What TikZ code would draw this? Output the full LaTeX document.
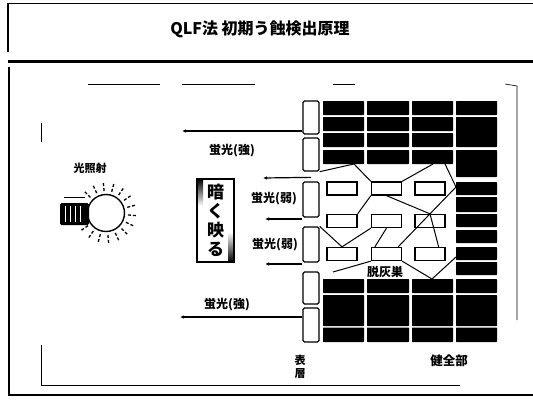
\documentclass[tikz,border=0pt]{standalone}
\usepackage{fontspec}
\newfontfamily\cjk{Noto Sans CJK JP}
\usetikzlibrary{calc,arrows.meta}

\begin{document}
\begin{tikzpicture}[x=1pt,y=-1pt,
  lbl/.style={font=\cjk\bfseries\fontsize{12}{14}\selectfont, inner sep=0pt},
  surf/.style={draw, line width=1.3pt, rounded corners=1.5pt, fill=white,
               minimum width=16pt, inner sep=0pt},
  cell/.style={draw, line width=1.3pt, fill=white, minimum width=30pt,
               minimum height=13pt, inner sep=0pt},
  edge/.style={line width=1pt},
  fl/.style={line width=1.2pt, -{Latex[length=4pt,width=3.5pt]}},
  hair/.style={line width=0.6pt}
]
\useasboundingbox (0,0) rectangle (533,400);

% ---- page frame -------------------------------------------------------
\draw[line width=1pt] (8,3) -- (533,3);
\draw[line width=1.4pt] (8,3) -- (8,52);
\draw[line width=3pt] (8,61) -- (533,61);
\draw[line width=1.8pt] (9,67) -- (9,395) -- (533,395);
% inner hairline frame
\draw[hair] (88,84) -- (160,84);
\draw[hair] (182,84) -- (255,84);
\draw[hair] (333,84) -- (355,84);
\draw[hair] (505,84) -- (517,86) -- (517,320);
\draw[hair] (41,123) -- (41,142);
\draw[hair] (41,345) -- (41,385) -- (460,385);

% ---- title ------------------------------------------------------------
\node[font=\cjk\bfseries\fontsize{16}{18}\selectfont, inner sep=0pt] (title)
  at (260,29) {QLF法 初期う蝕検出原理};

% ---- enamel: sound (dark) blocks -------------------------------------
\foreach \ya/\yb in {101/115, 117/131, 133/147, 150/164}
  \foreach \xa/\xb in {323/364, 367/409, 412/453}
    \fill[rounded corners=0.6pt] (\xa,\ya) rectangle (\xb,\yb);
\foreach \ya/\yb in {101/115, 117/147, 150/177, 182/195, 197/212, 214/227,
                     230/243, 247/260, 262/275}
  \fill[rounded corners=0.6pt] (456,\ya) rectangle (497,\yb);
\foreach \ya/\yb in {279/293, 295/326, 327.5/342}
  \foreach \xa/\xb in {323/364, 367/409, 412/453, 456/497}
    \fill[rounded corners=0.6pt] (\xa,\ya) rectangle (\xb,\yb);

% ---- surface layer ----------------------------------------------------
\node[surf, minimum height=33pt] (s1) at (311,117.5) {};
\node[surf, minimum height=33pt] (s2) at (311,154.5) {};
\node[surf, minimum height=35pt] (s3) at (311,199.5) {};
\node[surf, minimum height=35pt] (s4) at (311,244.5) {};
\node[surf, minimum height=32pt] (s5) at (311,288) {};
\node[surf, minimum height=34pt] (s6) at (311,325) {};

% ---- demineralised lesion cells --------------------------------------
\node[cell] (l11) at (342,188.5) {};
\node[cell] (l12) at (386.5,188.5) {};
\node[cell] (l13) at (430,188.5) {};
\node[cell] (l21) at (342,221) {};
\node[cell] (l22) at (386.5,221) {};
\node[cell] (l23) at (430,221) {};
\node[cell] (l31) at (342,254) {};
\node[cell] (l32) at (386.5,254) {};
\node[cell] (l33) at (430,254) {};

% lesion outline
\coordinate (p1) at (354,164);
\coordinate (p2) at (433,164);
\coordinate (p3) at (445,164);
\coordinate (p4) at (456,187);
\coordinate (p5) at (333,272);
\coordinate (p6) at (432,279);
\coordinate (p7) at (456,257);
\draw[edge] (s2.south east) -- (p1) -- (l12.north west);
\draw[edge] (l12.south west) -- (l21.north east);
\draw[edge] (l12.north east) -- (p2);
\draw[edge] (l12.south) -- (l23.north);
\draw[edge] (p3) -- (p4) -- (l23.north) -- ($(l33.north east)+(-7,0)$);
\draw[edge] (s4.north east) -- (l31.north) -- (l22.south west);
\draw[edge] ($(l32.north west)+(4,0)$) -- (l22.south);
\draw[edge] ($(l32.north east)+(-4,0)$) -- (l23.north);
\draw[edge] (p5) -- (l32.south west);
\draw[edge] (l32.south east) -- (p6) -- (p7);

% ---- fluorescence arrows ---------------------------------------------
\coordinate (w0) at (182,131);
\coordinate (w1) at (263,178);
\coordinate (w2) at (265,219);
\coordinate (w3) at (265,264);
\coordinate (w4) at (180,317);
\draw[fl] (s1.west |- w0) -- (w0);
\draw[fl] ([yshift=4pt]s3.north) -- (w1);
\draw[fl] (s3.south west |- w2) -- (w2);
\draw[fl] (s4.south west |- w3) -- (w3);
\draw[fl] (s6.west |- w4) -- (w4);

\node[lbl] (t1) at (232,151) {蛍光(強)};
\node[lbl] (t2) at (274,199) {蛍光(弱)};
\node[lbl] (t3) at (275,245) {蛍光(弱)};
\node[lbl] (t4) at (227,305) {蛍光(強)};
\node[lbl] (t6) at (385,272) {脱灰巣};
\node[lbl, align=center, font=\cjk\bfseries\fontsize{11}{13}\selectfont]
  (t7) at (300,367) {表\\層};
\node[lbl, font=\cjk\bfseries\fontsize{12.5}{14}\selectfont] (t8) at (449,361) {健全部};

% ---- "appears dark" panel --------------------------------------------
\shade[top color=black, bottom color=white] (197,179) rectangle (203,206);
\shade[top color=white, bottom color=black] (228.5,232) rectangle (234,262);
\node[draw, line width=1.2pt, minimum width=37pt, minimum height=83pt,
      inner sep=0pt, align=center,
      font=\cjk\bfseries\fontsize{17}{19}\selectfont] (dk) at (215.5,220.5)
  {暗\\く\\映\\る};

% ---- light source -----------------------------------------------------
\node[lbl, font=\cjk\bfseries\fontsize{11}{13}\selectfont] (t5) at (90,168) {光照射};
\coordinate (bc) at (106,213);
\draw[line width=1.4pt] (bc) circle (18.5pt);
\foreach \a in {-145,-125,...,145}
  \draw[line width=1.3pt, dash pattern=on 3pt off 2pt]
    ($(bc)+(\a:22pt)$) -- ($(bc)+(\a:30pt)$);
\fill[rounded corners=1.5pt] (60,203) rectangle (89,225);
\foreach \x in {65,70,75,80}
  \draw[white, line width=0.9pt] (\x,206) -- (\x,222);
\draw[line width=0.8pt] (64,197) -- (85,197);
\end{tikzpicture}
\end{document}
